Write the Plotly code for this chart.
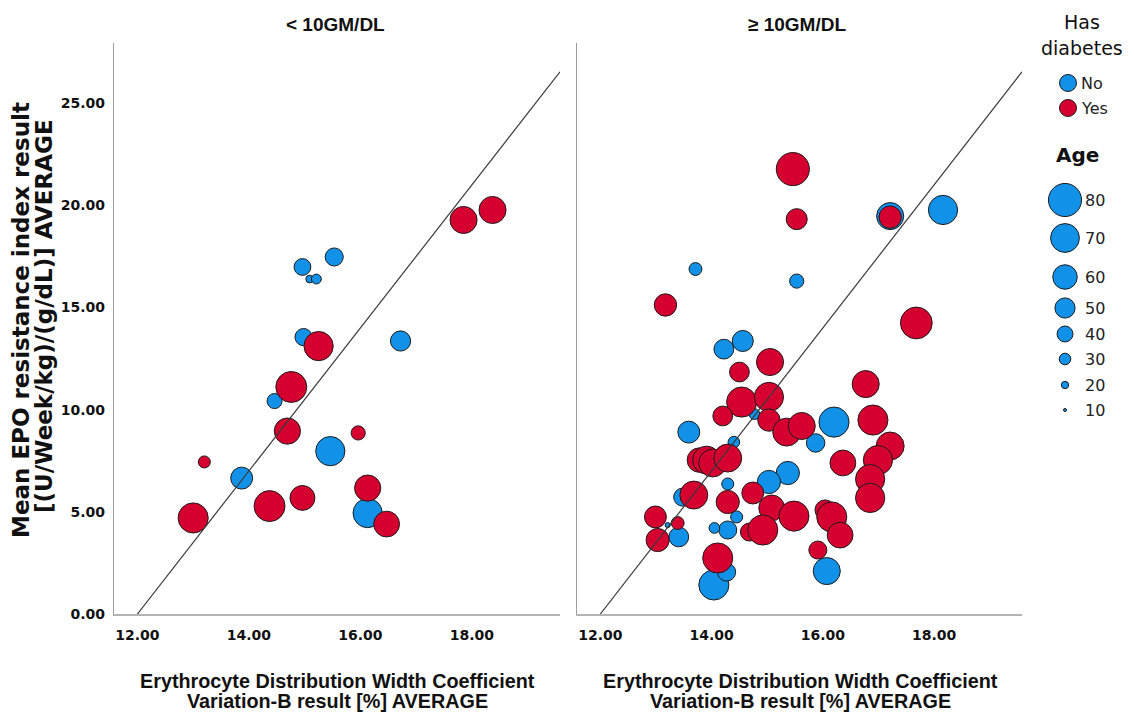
import plotly.graph_objects as go

# ---------------- data ----------------
panel_titles = ["< 10GM/DL", "≥ 10GM/DL"]
group_names = ["No", "Yes"]
x_tick_vals = [12, 14, 16, 18]
y_tick_vals = [0, 5, 10, 15, 20, 25]
size_legend_ages = [80, 70, 60, 50, 40, 30, 20, 10]

# Panel "< 10GM/DL", Has diabetes = No
low_no_x = [13.87, 14.46, 14.98, 14.96, 15.09, 15.21, 15.53, 16.72, 15.46, 16.13]
low_no_y = [6.65, 10.42, 13.55, 16.98, 16.39, 16.39, 17.47, 13.36, 7.97, 4.94]
low_no_age = [54, 38, 43, 42, 21, 26, 45, 50, 71, 71]
# Panel "< 10GM/DL", Has diabetes = Yes
low_yes_x = [13.00, 13.20, 14.37, 14.96, 14.69, 14.76, 15.25, 17.85, 18.37, 15.96, 16.13, 16.47]
low_yes_y = [4.70, 7.44, 5.28, 5.68, 8.95, 11.11, 13.11, 19.28, 19.77, 8.86, 6.16, 4.40]
low_yes_age = [73, 31, 75, 61, 64, 75, 71, 66, 66, 36, 64, 63]

# Panel "≥ 10GM/DL", Has diabetes = No
high_no_x = [17.21, 18.16, 13.71, 15.53, 14.22, 14.56, 13.59, 15.87, 16.20, 14.40,
             14.77, 13.48, 13.21, 13.41, 15.37, 15.03, 14.29, 14.45, 14.29, 14.05,
             14.04, 14.27, 16.07]
high_no_y = [19.47, 19.77, 16.88, 16.29, 12.96, 13.36, 8.90, 8.37, 9.39, 8.41,
             9.78, 5.72, 4.35, 3.77, 6.90, 6.46, 6.36, 4.75, 4.11, 4.21,
             1.42, 2.05, 2.10]
high_no_age = [66, 71, 33, 36, 49, 52, 54, 46, 73, 30,
               28, 45, 15, 49, 57, 57, 31, 31, 45, 28,
               73, 45, 66]
# Panel "≥ 10GM/DL", Has diabetes = Yes
high_yes_x = [15.46, 15.53, 17.21, 13.17, 17.68, 15.05, 14.50, 14.54, 15.03, 14.20,
              15.03, 15.35, 15.62, 13.78, 13.91, 14.02, 14.29, 13.68, 12.99, 13.03,
              13.39, 14.74, 15.08, 15.48, 14.68, 14.92, 14.29, 14.11, 16.04, 16.16,
              16.31, 15.91, 16.36, 16.77, 16.90, 17.21, 16.99, 16.85, 16.85]
high_yes_y = [21.77, 19.32, 19.42, 15.12, 14.24, 12.33, 11.84, 10.37, 10.62, 9.69,
              9.49, 8.90, 9.20, 7.53, 7.53, 7.39, 7.63, 5.82, 4.75, 3.62,
              4.45, 5.92, 5.19, 4.79, 4.01, 4.11, 5.48, 2.74, 5.09, 4.75,
              3.86, 3.13, 7.39, 11.25, 9.49, 8.22, 7.53, 6.60, 5.68]
high_yes_age = [80, 52, 55, 55, 77, 66, 49, 73, 71, 49,
                55, 68, 66, 60, 68, 68, 68, 68, 54, 57,
                33, 54, 63, 73, 45, 73, 57, 73, 50, 73,
                63, 45, 63, 66, 73, 68, 71, 71, 71]

# reference line end points
ref_line_x = [12.0, 19.58]
ref_line_y = [0.0, 26.53]

# ---------------- style ----------------
OFF = 8                      # page body margin of the browser
W, H = 1134 - OFF, 716 - OFF  # figure size so the page fits the window
BLUE = "#1192e8"
RED = "#d5002f"
OUTLINE = "#1c1c1c"
X_RANGE = [11.58, 19.58]
Y_RANGE = [0, 27.94]


def diam(ages):
    return [max(0.43 * a - 1.3, 2.2) for a in ages]


def px_x(p):
    """window pixel -> paper fraction"""
    return (p - OFF) / W


def px_y(p):
    return 1 - (p - OFF) / H


fig = go.Figure()

panels = [
    ("x", "y", (low_no_x, low_no_y, low_no_age), (low_yes_x, low_yes_y, low_yes_age)),
    ("x2", "y2", (high_no_x, high_no_y, high_no_age), (high_yes_x, high_yes_y, high_yes_age)),
]
for xa, ya, no_d, yes_d in panels:
    for (xs, ys, ages), color, name in ((no_d, BLUE, group_names[0]), (yes_d, RED, group_names[1])):
        fig.add_trace(go.Scatter(
            x=xs, y=ys, mode="markers", xaxis=xa, yaxis=ya, name=name,
            showlegend=False, cliponaxis=False,
            marker=dict(size=diam(ages), sizemode="diameter", color=color,
                        line=dict(color=OUTLINE, width=1), opacity=1),
            hovertemplate="%{x:.2f}, %{y:.2f}<extra>" + name + "</extra>",
        ))
    fig.add_trace(go.Scatter(
        x=ref_line_x, y=ref_line_y, mode="lines", xaxis=xa, yaxis=ya,
        showlegend=False, hoverinfo="skip",
        line=dict(color="#3a3a3a", width=1.2),
    ))

# ---------------- legend drawn on its own window-pixel-mapped axis ----------------
LEG_DOM = [0.905, 1.0]
leg_x_range = [OFF + LEG_DOM[0] * W, OFF + LEG_DOM[1] * W]
fig.add_trace(go.Scatter(
    x=[1068, 1068], y=[83, 108], mode="markers", xaxis="x3", yaxis="y3",
    showlegend=False, hoverinfo="skip",
    marker=dict(size=17, color=[BLUE, RED], opacity=1, line=dict(color=OUTLINE, width=1)),
))
size_leg_y = [200, 238, 277, 308, 334, 359, 385, 410]
fig.add_trace(go.Scatter(
    x=[1065] * len(size_legend_ages), y=size_leg_y, mode="markers",
    xaxis="x3", yaxis="y3", showlegend=False, hoverinfo="skip",
    marker=dict(size=diam(size_legend_ages), sizemode="diameter", color=BLUE, opacity=1,
                line=dict(color=OUTLINE, width=1)),
))

LEG_FONT = "DejaVu Sans"
annotations = []
for txt, yy in ((group_names[0], 83), (group_names[1], 108)):
    annotations.append(dict(x=1079, y=yy, xref="x3", yref="y3", text=txt, showarrow=False,
                            xanchor="left", yanchor="middle",
                            font=dict(family=LEG_FONT, size=16, color="#222")))
for a, yy in zip(size_legend_ages, size_leg_y):
    annotations.append(dict(x=1083, y=yy, xref="x3", yref="y3", text=str(a), showarrow=False,
                            xanchor="left", yanchor="middle",
                            font=dict(family=LEG_FONT, size=16, color="#222")))
annotations.append(dict(x=1082, y=22, xref="x3", yref="y3", text="Has", showarrow=False,
                        xanchor="center", yanchor="middle",
                        font=dict(family=LEG_FONT, size=19, color="#111")))
annotations.append(dict(x=1082, y=48, xref="x3", yref="y3", text="diabetes", showarrow=False,
                        xanchor="center", yanchor="middle",
                        font=dict(family=LEG_FONT, size=19, color="#111")))
annotations.append(dict(x=1077, y=155, xref="x3", yref="y3", text="Age", showarrow=False,
                        xanchor="center", yanchor="middle",
                        font=dict(family=LEG_FONT, size=20, color="#111", weight="bold")))

# ---------------- titles ----------------
BOLD = "Liberation Sans"
for txt, cx in zip(panel_titles, (335, 797)):
    annotations.append(dict(x=px_x(cx), y=px_y(24), xref="paper", yref="paper", text=txt,
                            showarrow=False, xanchor="center", yanchor="middle",
                            font=dict(family=BOLD, size=19, color="#111", weight="bold")))
xtitle_lines = ["Erythrocyte Distribution Width Coefficient", "Variation-B result [%] AVERAGE"]
for cx in (337, 800):
    for line, yy in zip(xtitle_lines, (681, 701)):
        annotations.append(dict(x=px_x(cx), y=px_y(yy), xref="paper", yref="paper", text=line,
                                showarrow=False, xanchor="center", yanchor="middle",
                                font=dict(family=BOLD, size=19.8, color="#111", weight="bold")))
ytitle_lines = ["Mean EPO resistance index result", "[(U/Week/kg)/(g/dL)] AVERAGE"]
for line, xx, yy in zip(ytitle_lines, (21, 44), (320, 316)):
    annotations.append(dict(x=px_x(xx), y=px_y(yy), xref="paper", yref="paper", text=line,
                            textangle=-90, showarrow=False, xanchor="center", yanchor="middle",
                            font=dict(family="DejaVu Sans", size=23, color="#111", weight="bold")))

tickfont = dict(family="DejaVu Sans", size=14, color="#111", weight="bold")
xaxis_common = dict(range=X_RANGE, tickvals=x_tick_vals, tickformat=".2f", showgrid=False,
                    zeroline=False, showline=True, linecolor="#b4b4b4", linewidth=2,
                    ticks="", tickfont=tickfont, ticklabelstandoff=7, automargin=False,
                    fixedrange=True)
yaxis_common = dict(range=Y_RANGE, tickvals=y_tick_vals, tickformat=".2f", showgrid=False,
                    zeroline=False, showline=True, linecolor="#9c9c9c", linewidth=1.2,
                    ticks="", tickfont=tickfont, automargin=False, fixedrange=True,
                    domain=[px_y(614), px_y(43)])

fig.update_layout(
    width=W, height=H, autosize=False,
    margin=dict(l=0, r=0, t=0, b=0),
    paper_bgcolor="white", plot_bgcolor="white",
    showlegend=False,
    xaxis=dict(xaxis_common, domain=[px_x(114), px_x(560)], anchor="y"),
    yaxis=dict(yaxis_common, anchor="x", ticklabelstandoff=5),
    xaxis2=dict(xaxis_common, domain=[px_x(577), px_x(1022)], anchor="y2"),
    yaxis2=dict(yaxis_common, anchor="x2", showticklabels=False),
    xaxis3=dict(domain=LEG_DOM, range=leg_x_range, visible=False, fixedrange=True),
    yaxis3=dict(domain=[0, 1], range=[OFF + H, OFF], visible=False, anchor="x3",
                fixedrange=True),
    annotations=annotations,
)

fig.write_html("out.html")
